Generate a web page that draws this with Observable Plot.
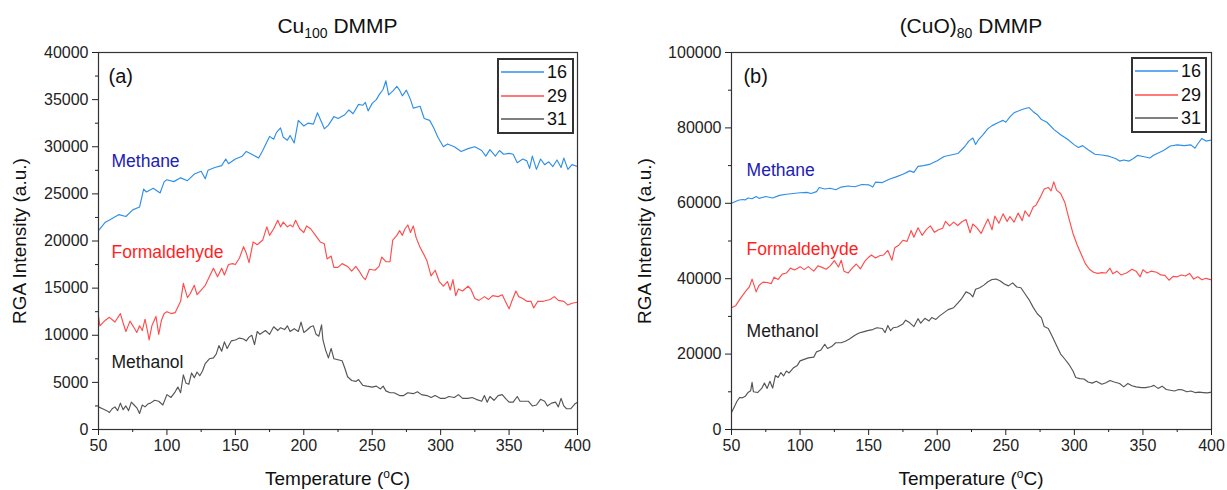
<!DOCTYPE html>
<html>
<head>
<meta charset="utf-8">
<script src="https://cdn.jsdelivr.net/npm/d3@7"></script>
<script src="https://cdn.jsdelivr.net/npm/@observablehq/plot@0.6"></script>
<style>
  body { margin:0; background:#fff; font-family:"Liberation Sans", Arial, sans-serif; }
  #wrap { position:relative; width:1227px; height:490px; overflow:hidden; }
  .panel { position:absolute; top:0; width:613px; height:490px; }
  .panel > svg { position:absolute; top:0; left:0; }
  .title { position:absolute; top:14px; font-size:21px; color:#111; white-space:nowrap; transform:translateX(-50%); }
  .title sub { font-size:14px; vertical-align:-5px; line-height:0; }
  .xlab { position:absolute; top:468px; font-size:19px; color:#111; white-space:nowrap; transform:translateX(-50%); }
  .xlab sup { font-size:12px; vertical-align:7px; line-height:0; }
  .ylab { position:absolute; font-size:19px; color:#111; white-space:nowrap; transform:translate(-50%,-50%) rotate(-90deg); }
  .legend { position:absolute; border:2px solid #333; background:#fff; box-sizing:border-box; }
  .legend .row { position:absolute; left:0; height:20px; width:100%; }
  .legend .sw { position:absolute; left:2px; top:0; }
  .legend .lt { position:absolute; left:48px; top:0; font-size:18px; line-height:20px; color:#111; }
</style>
</head>
<body>
<div id="wrap"></div>
<script>
// ---------------- data ----------------
const massLabels = ["16", "29", "31"];
const speciesNames = ["Methane", "Formaldehyde", "Methanol"];
const panelTitles = ["Cu<sub>100</sub> DMMP", "(CuO)<sub>80</sub> DMMP"];
const panelTags = ["(a)", "(b)"];
const xTicks = [50, 100, 150, 200, 250, 300, 350, 400];
const xMinorTicks = [75, 125, 175, 225, 275, 325, 375];
const yTicksA = [0, 5000, 10000, 15000, 20000, 25000, 30000, 35000, 40000];
const yMinorTicksA = [2500, 7500, 12500, 17500, 22500, 27500, 32500, 37500];
const yTicksB = [0, 20000, 40000, 60000, 80000, 100000];
const yMinorTicksB = [10000, 30000, 50000, 70000, 90000];

// Panel (a) Cu100: [temperature, intensity]
const a16 = [[50,21100],[55,22000],[60,22400],[65,22800],[70,22600],[75,23300],[80,23600],[83,25500],[85,25200],[90,25600],[95,25100],[98,26300],[100,26500],[105,26300],[110,26700],[115,26400],[120,27100],[125,27400],[128,26600],[130,27500],[135,27800],[140,28000],[143,28700],[145,28200],[150,28700],[155,29000],[158,29500],[162,29200],[167,28800],[170,29600],[175,31100],[178,30800],[180,31500],[183,32000],[185,31000],[188,30700],[190,31200],[193,30400],[196,32800],[200,32200],[203,32500],[207,32400],[210,33600],[213,32600],[215,31900],[218,32300],[222,33200],[225,33000],[230,33400],[233,33900],[236,33500],[240,34500],[243,34400],[245,34700],[247,33800],[250,34600],[253,35000],[255,35500],[258,36100],[260,37000],[262,35500],[265,35900],[268,36400],[270,36000],[272,35400],[275,36000],[278,35000],[280,34100],[285,34300],[288,33000],[292,32800],[295,32000],[298,31000],[302,30000],[305,30300],[310,30000],[315,29500],[320,29800],[325,30000],[330,29600],[333,29000],[336,29700],[340,29000],[343,29600],[346,29200],[350,29300],[353,29200],[356,28300],[360,28700],[363,28500],[365,27700],[367,29000],[370,27600],[373,28700],[376,28100],[379,28400],[382,27900],[385,28600],[388,27800],[390,28800],[393,27600],[396,28100],[400,27900]];
const a29 = [[50,12000],[51,11000],[55,11600],[58,11900],[62,11400],[66,12300],[68,11300],[70,10400],[73,11500],[76,10800],[78,10300],[80,11000],[82,10500],[84,11700],[86,10300],[87,9500],[89,11000],[92,12000],[94,10100],[96,11600],[98,12300],[100,12500],[103,12300],[106,12400],[110,13600],[112,15500],[115,14000],[117,14400],[120,15300],[122,14300],[125,14800],[128,15300],[131,16200],[134,17100],[137,16200],[140,17100],[142,16400],[145,17500],[148,17600],[150,17500],[153,18200],[156,19400],[158,18700],[160,17700],[163,19900],[166,19600],[170,20100],[173,21500],[175,20600],[178,21300],[181,22200],[183,21500],[185,22000],[188,21500],[190,21700],[192,21500],[194,22200],[197,21300],[200,20900],[202,21600],[205,21300],[208,20700],[212,19900],[215,19700],[217,18100],[220,18400],[222,17200],[225,17200],[228,17600],[232,17300],[235,16800],[238,17300],[241,16700],[243,16200],[245,15900],[248,17000],[252,16900],[255,17300],[257,18300],[260,17800],[263,17800],[265,20100],[268,20600],[270,21100],[272,20600],[274,21300],[276,21700],[278,20900],[280,21600],[282,20400],[285,19300],[288,18500],[290,17900],[293,16300],[296,16900],[299,15700],[302,15200],[305,15700],[307,14800],[309,15900],[311,14200],[313,14900],[316,14700],[320,15200],[322,14900],[325,13900],[328,13700],[332,14100],[335,13800],[338,14200],[342,14100],[345,14300],[348,13400],[350,12800],[352,13600],[355,14700],[357,14100],[360,13900],[363,13600],[366,13600],[368,12900],[371,13600],[375,13600],[380,13800],[383,14100],[386,13700],[390,13600],[393,13200],[396,13400],[400,13500]];
const a31 = [[50,2400],[53,2200],[56,2000],[58,1800],[60,2200],[62,2400],[64,2000],[66,2800],[68,2100],[70,2500],[72,2000],[74,2900],[76,2600],[78,2300],[80,1700],[82,2600],[84,2400],[86,2700],[88,2800],[91,3100],[94,3000],[97,2600],[100,3700],[103,3400],[106,4000],[108,4500],[110,3900],[112,5800],[114,4900],[116,4800],[118,6000],[120,5500],[122,6100],[124,5700],[126,6200],[128,7000],[131,7500],[134,7600],[136,8000],[138,8900],[140,8300],[142,9300],[144,8600],[147,9400],[150,9500],[153,9700],[156,9600],[158,9400],[160,9800],[162,10000],[164,9000],[166,10400],[168,10100],[172,10500],[175,10100],[178,10900],[181,10500],[183,10800],[186,10600],[188,11000],[190,10400],[193,10700],[196,10400],[198,11400],[200,10300],[202,10500],[205,10900],[207,11000],[209,10100],[211,9900],[213,11100],[214,9500],[216,8400],[218,7600],[220,8600],[222,7500],[225,7400],[228,7300],[230,6500],[232,5600],[235,5200],[238,5100],[240,5300],[243,4700],[246,4600],[250,4500],[253,4600],[256,4300],[258,4600],[260,4100],[263,3900],[266,3900],[270,3600],[273,3600],[276,3900],[280,3800],[283,4000],[286,3700],[290,3600],[293,3400],[296,3600],[300,3300],[303,3300],[306,3500],[310,3400],[313,3700],[316,3300],[320,3300],[323,3400],[326,3200],[330,3000],[332,3600],[334,2900],[336,3500],[339,3100],[342,3600],[345,3700],[348,3200],[350,2900],[353,2900],[356,3500],[358,3000],[361,3000],[364,3000],[367,2500],[370,2600],[373,3200],[376,3000],[378,2500],[381,2800],[384,2900],[386,2400],[388,3300],[390,2500],[392,2200],[395,2200],[398,2700],[400,2900]];

// Panel (b) (CuO)80
const b16 = [[50,60000],[55,60800],[58,61000],[60,60900],[62,61400],[65,61200],[68,61800],[70,61300],[75,61800],[80,61400],[85,62100],[90,62400],[95,62600],[100,62800],[105,62900],[108,62600],[112,63100],[114,64200],[118,63800],[122,64000],[126,63600],[130,64300],[135,64600],[140,64400],[145,65000],[150,64900],[153,64300],[155,65600],[160,65500],[165,66400],[170,67000],[175,67700],[180,68600],[183,68200],[186,69800],[190,70000],[195,70400],[200,71300],[205,72400],[210,72800],[215,73200],[220,75000],[223,76500],[226,77300],[228,75600],[230,76800],[233,78000],[237,79800],[240,80600],[245,81500],[248,82000],[250,81500],[253,82900],[256,84000],[260,84600],[263,85000],[267,85400],[270,84300],[273,83500],[276,82200],[280,81500],[285,79600],[290,78200],[295,77000],[300,75500],[303,74800],[306,75300],[310,74200],[315,73000],[320,72800],[325,72500],[330,71900],[333,71200],[336,71500],[340,71200],[343,71900],[346,72700],[350,72400],[355,72000],[358,72800],[362,73500],[365,74000],[370,75200],[375,75500],[380,75300],[385,75500],[388,74600],[390,75800],[393,77200],[396,76500],[400,76800]];
const b29 = [[50,32300],[53,32800],[56,34500],[60,36500],[63,37800],[65,39900],[68,36500],[70,38200],[73,39100],[76,39000],[79,38700],[81,40400],[84,39800],[87,41200],[90,41500],[93,42800],[96,42300],[100,43200],[103,42400],[106,43200],[110,42000],[113,43400],[116,43000],[119,42500],[122,43400],[125,44800],[128,43100],[130,44900],[132,42000],[135,41500],[138,42800],[141,43900],[144,42600],[147,44500],[150,45700],[152,46300],[155,45500],[158,46100],[161,46300],[164,47500],[167,44900],[169,48200],[172,48900],[175,50200],[178,49900],[181,52800],[183,51000],[186,53500],[189,51500],[192,53000],[195,54000],[198,52300],[201,53000],[204,53400],[206,55200],[209,54000],[212,55000],[215,54100],[218,55100],[221,55700],[224,52200],[226,54500],[229,53500],[232,52000],[235,54400],[237,55800],[240,53000],[242,56600],[245,54700],[248,57200],[251,55200],[253,56500],[256,55000],[259,57400],[262,55400],[264,58000],[267,56500],[270,59000],[272,59500],[275,61500],[278,63800],[281,64200],[283,63300],[285,65700],[287,63500],[290,62600],[293,60300],[296,56000],[299,52000],[302,49000],[305,46500],[308,44000],[311,42500],[314,41700],[317,41400],[320,41600],[323,41500],[326,42800],[328,41300],[331,42000],[334,41000],[338,41500],[342,42500],[345,42000],[348,40500],[350,42400],[353,41500],[356,42000],[360,41700],[363,41000],[366,40900],[369,39600],[372,40600],[375,40500],[378,41000],[381,40700],[384,41400],[387,39900],[390,40500],[393,39700],[396,40100],[400,39700]];
const b31 = [[50,4500],[52,6000],[54,7500],[56,8500],[58,8400],[60,8800],[62,9800],[64,10300],[65,12500],[66,10000],[69,9800],[72,10900],[74,12300],[76,10900],[78,12800],[80,11000],[82,14300],[84,13800],[86,15100],[88,14200],[90,15500],[92,15000],[95,16300],[98,17000],[100,18200],[103,18600],[106,19000],[110,19200],[112,20600],[115,21000],[118,22600],[120,21500],[123,22000],[126,23000],[130,23000],[133,23400],[136,24000],[140,25000],[143,25600],[146,25900],[150,26300],[153,26500],[156,27000],[160,26800],[162,25700],[164,27600],[166,26200],[168,27000],[171,27200],[175,28000],[177,29000],[180,28300],[183,27300],[186,29400],[188,28200],[191,29500],[194,28800],[196,29700],[199,29200],[202,30200],[205,31000],[208,31800],[212,32300],[215,33500],[218,34800],[221,36500],[224,36000],[226,35200],[228,37200],[231,37600],[234,38300],[237,39200],[240,39800],[243,39900],[246,39400],[249,38600],[252,38100],[255,38900],[258,37800],[261,37600],[264,36000],[267,34400],[270,32400],[273,30700],[276,29600],[278,27300],[281,26800],[284,24600],[287,22300],[290,20000],[293,18700],[296,17300],[299,15500],[301,13800],[304,13500],[307,13400],[310,12600],[313,12300],[316,12800],[320,12000],[323,12400],[326,13000],[329,12600],[333,12200],[336,11300],[339,12200],[342,11600],[345,11300],[349,11100],[352,11100],[356,11400],[358,11700],[361,10900],[364,11500],[367,10600],[370,10400],[373,10200],[376,10600],[379,10500],[382,10000],[385,10200],[388,9800],[391,9900],[394,9800],[397,9700],[400,9900]];

// annotation anchor points (data coordinates)
const tagPosA = [57.3, 37400];
const namePosA = [[59.5, 28400], [59.5, 18800], [59.5, 7100]];
const tagPosB = [58.7, 93600];
const namePosB = [[61, 68600], [61, 47900], [61, 26100]];

// ---------------- styling ----------------
const lineColors = ["#2f8fe8", "#ff4d4d", "#555555"];
const nameColors = ["#2121b3", "#ff1f1f", "#1a1a1a"];

function toRows(arr){ return arr.map(([t, v]) => ({t, v})); }

function makePanel(cfg){
  const series = cfg.series.map(toRows);
  const marks = [];
  series.forEach((rows, i) => {
    marks.push(Plot.line(rows, {x:"t", y:"v", stroke:lineColors[i], strokeWidth:1.15, strokeLinejoin:"round"}));
  });
  marks.push(Plot.frame({stroke:"#333", strokeWidth:1.2}));
  marks.push(Plot.axisX({ticks:xTicks, tickSize:6, tickPadding:4, tickFormat:d=>String(d), label:null, fontSize:16}));
  marks.push(Plot.axisX({ticks:xMinorTicks, tickSize:3, tickFormat:()=>"", label:null}));
  marks.push(Plot.axisY({ticks:cfg.yTicks, tickSize:6, tickPadding:4, tickFormat:d=>String(d), label:null, fontSize:16}));
  marks.push(Plot.axisY({ticks:cfg.yMinor, tickSize:3, tickFormat:()=>"", label:null}));
  marks.push(Plot.text([cfg.tag], {x:()=>cfg.tagPos[0], y:()=>cfg.tagPos[1], text:d=>d, textAnchor:"start", fontSize:20, fill:"#111"}));
  speciesNames.forEach((nm, i) => {
    marks.push(Plot.text([nm], {x:()=>cfg.namePos[i][0], y:()=>cfg.namePos[i][1], text:d=>d, textAnchor:"start", fontSize:17.5, fill:nameColors[i]}));
  });
  return Plot.plot({
    width:613, height:490,
    marginTop:52, marginBottom:61, marginLeft:cfg.ml, marginRight:cfg.mr,
    style:{fontFamily:"Liberation Sans, Arial, sans-serif", fontSize:"16px", color:"#222", background:"transparent"},
    x:{domain:[50,400]},
    y:{domain:cfg.yDomain},
    marks
  });
}

const wrap = document.getElementById("wrap");
const panels = [
  {left:0, ml:98, mr:36, yDomain:[0,40000], yTicks:yTicksA, yMinor:yMinorTicksA, series:[a16,a29,a31], tag:panelTags[0], tagPos:tagPosA, namePos:namePosA, title:panelTitles[0], ylabX:20, legend:{x:497,y:58,w:77,h:76}},
  {left:614, ml:117, mr:16, yDomain:[0,100000], yTicks:yTicksB, yMinor:yMinorTicksB, series:[b16,b29,b31], tag:panelTags[1], tagPos:tagPosB, namePos:namePosB, title:panelTitles[1], ylabX:31, legend:{x:1131,y:57,w:76,h:76}}
];

const svgNS = "http://www.w3.org/2000/svg";
panels.forEach(cfg => {
  const div = document.createElement("div");
  div.className = "panel";
  div.style.left = cfg.left + "px";
  div.appendChild(makePanel(cfg));
  wrap.appendChild(div);

  const cx = cfg.left + cfg.ml + (613 - cfg.ml - cfg.mr) / 2;
  const t = document.createElement("div");
  t.className = "title"; t.style.left = cx + "px"; t.innerHTML = cfg.title;
  wrap.appendChild(t);

  const xl = document.createElement("div");
  xl.className = "xlab"; xl.style.left = cx + "px"; xl.innerHTML = "Temperature (<sup>o</sup>C)";
  wrap.appendChild(xl);

  const yl = document.createElement("div");
  yl.className = "ylab"; yl.style.left = (cfg.left + cfg.ylabX) + "px"; yl.style.top = "241px";
  yl.textContent = "RGA Intensity (a.u.)";
  wrap.appendChild(yl);

  const lg = document.createElement("div");
  lg.className = "legend";
  Object.assign(lg.style, {left:cfg.legend.x+"px", top:cfg.legend.y+"px", width:cfg.legend.w+"px", height:cfg.legend.h+"px"});
  massLabels.forEach((m, i) => {
    const row = document.createElement("div");
    row.className = "row"; row.style.top = (2 + i*23.5) + "px";
    const sw = document.createElementNS(svgNS, "svg");
    sw.setAttribute("class", "sw"); sw.setAttribute("width", "44"); sw.setAttribute("height", "20");
    const ln = document.createElementNS(svgNS, "line");
    ln.setAttribute("x1", "0"); ln.setAttribute("x2", "43"); ln.setAttribute("y1", "10"); ln.setAttribute("y2", "10");
    ln.setAttribute("stroke", lineColors[i]); ln.setAttribute("stroke-width", "1.6");
    sw.appendChild(ln);
    const lt = document.createElement("div"); lt.className = "lt"; lt.textContent = m;
    row.appendChild(sw); row.appendChild(lt); lg.appendChild(row);
  });
  wrap.appendChild(lg);
});
</script>
</body>
</html>
